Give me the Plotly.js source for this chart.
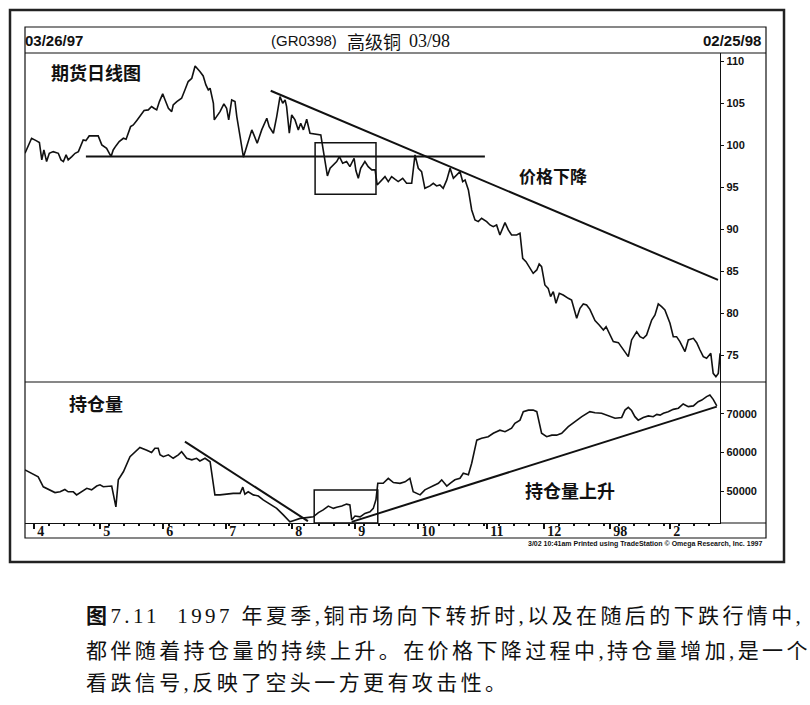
<!DOCTYPE html>
<html><head><meta charset="utf-8">
<script src="https://cdn.plot.ly/plotly-3.0.1.min.js"></script>
<style>
html,body{margin:0;padding:0;background:#fff;}
#chart{width:810px;height:705px;}
.annotation[data-index="0"] .annotation-text,
.annotation[data-index="1"] .annotation-text,
.annotation[data-index="2"] .annotation-text{letter-spacing:3.4px;}
</style></head><body><div id="chart"></div><script>
// trading-day index (0 = 03/26/97) and price
const priceDay = [0,2.2,3.7,4.8,5.6,6.3,7.2,8.1,9.4,11.1,12.0,12.8,13.7,14.4,15.6,16.7,17.8,19.4,20.3,21.4,22.8,24.4,25.6,27.2,28.7,29.4,30.3,31.4,32.8,33.7,35.2,36.1,37.4,38.9,39.7,41.1,42.2,43.0,43.9,44.8,45.9,46.7,47.8,48.9,49.4,50.6,52.2,53.3,54.4,55.6,56.7,58.3,59.4,60.3,61.1,61.7,62.8,63.1,63.9,65.0,66.3,67.2,67.9,
68.9,70.0,70.6,71.7,72.8,73.9,75.6,76.3,77.4,78.9,80.6,81.4,82.8,83.9,85.0,85.9,86.7,87.2,88.1,88.9,90.0,91.1,91.9,92.8,93.9,95.0,96.1,97.2,98.6,99.4,100.8,101.7,102.8,103.9,104.8,105.9,107.2,108.3,109.7,110.3,111.1,111.9,113.3,114.4,115.6,116.7,117.4,118.9,120.0,121.1,122.2,123.3,124.4,125.9,127.2,128.9,130.0,131.1,132.2,133.3,135.0,136.1,137.2,138.3,
139.4,140.6,141.7,142.8,143.9,145.0,145.9,146.7,147.8,148.9,150.0,151.1,152.2,153.9,155.0,156.1,157.2,158.3,160.0,161.1,162.2,163.9,165.0,165.9,167.0,168.3,169.4,170.6,171.4,172.2,173.3,174.4,175.2,176.1,177.0,178.1,179.4,181.1,182.2,183.9,185.0,186.1,187.2,188.3,190.0,191.4,192.8,193.7,194.8,196.1,197.8,199.2,201.1,202.2,203.9,205.0,206.1,207.2,208.9,210.0,211.1,212.2,213.3,215.0,216.1,217.2,218.3,220.0,221.1,222.8,223.9,225.0,226.1,227.2,228.6,229.4,230.3,231.1,231.7];
const priceVal = [99.05,100.84,100.56,100.33,98.26,99.45,98.06,99.05,99.25,99.05,98.26,98.06,98.86,98.26,98.66,99.05,99.25,100.64,100.56,101.12,101.12,101.12,100.05,99.65,98.66,99.45,99.93,100.44,100.84,100.72,102.23,102.43,103.03,103.82,104.14,104.22,104.62,104.42,104.22,105.21,106.13,105.41,104.42,104.02,104.81,105.21,105.61,106.60,107.60,107.99,109.46,108.79,108.27,107.20,106.60,106.80,105.01,103.03,103.42,104.02,104.93,104.42,103.03,
105.41,105.21,103.43,101.04,98.58,99.85,101.84,101.24,100.25,101.84,103.23,102.23,101.44,103.43,105.81,105.01,105.41,104.62,101.44,103.62,103.03,101.84,102.63,101.84,103.11,101.44,101.36,101.36,101.24,99.45,96.35,97.27,97.66,98.06,98.66,97.86,98.06,97.46,98.46,96.99,96.08,97.27,98.06,97.46,97.07,97.07,95.28,95.88,96.27,95.68,96.27,95.96,95.68,96.07,95.48,95.48,98.86,97.27,96.87,94.88,95.16,95.48,95.16,95.28,
94.88,95.88,97.27,96.07,96.47,96.87,95.68,95.88,94.68,92.30,91.11,90.91,91.31,90.91,90.51,90.31,90.51,89.32,90.79,89.92,89.32,89.32,89.52,86.54,86.14,85.35,84.75,85.15,85.86,85.55,83.36,82.96,81.97,82.57,81.18,82.37,82.17,81.77,81.57,79.39,80.58,81.10,80.98,80.46,79.11,78.59,78.00,78.39,77.60,76.61,76.49,75.81,74.82,76.81,77.80,77.20,77.00,77.40,79.19,79.79,81.10,80.78,80.38,78.79,77.20,77.20,76.61,75.42,76.81,77.00,76.49,75.61,74.82,74.62,75.22,72.83,72.43,72.83,75.22];

// open interest
const oiDay = [0,2.8,4.4,6.1,8.3,10,11.7,13.3,14.4,16.1,17.2,18.9,20.6,22.2,23.9,25,26.1,28.9,29.4,30.3,31.1,32.8,35,38.3,40.6,42.2,43.3,44.4,45,46.1,47.8,49.4,51.1,52.2,53.9,55.6,57.2,58.3,60,61.7,63.3,65,67.2,69.4,71.7,72.6,73.3,74.4,76.1,77.8,79.4,81.7,83.9,86.1,88.3,89.4,91.7,93.9,96.1,97.8,99.4,101.1,102.8,103.9,105.6,107.2,108.3,108.9,110,111.7,113.3,115,116.1,117,117.6,119.4,121.1,122.8,125,
126.7,128.3,129.4,130.6,131.7,133.3,135.6,137.8,138.9,140.6,141.7,143.3,145,146.1,147.8,148.9,150.6,152.2,154.4,156.1,158.3,160,162.2,163.3,165,166.1,167.8,169.4,170.6,171.7,172.2,173.9,175.6,177.2,178.9,181.1,183.3,185.6,188.3,190,192.2,194.4,196.7,198.9,200,201.1,202.2,203.3,204.4,206.1,207.8,209.4,210.6,211.7,212.8,214.4,216.1,217.8,219.4,221.1,222.8,224.4,225.6,227.2,228.3,229.4,230.6];
const oiVal = [55500,54300,53700,51100,50300,49600,49800,50400,49800,49800,49000,49800,50700,50300,51300,51600,51100,51300,49400,45900,52900,55000,58900,61300,60600,60000,61100,61100,59400,58900,59400,58500,59400,60200,58500,58100,58500,57800,58500,57600,49000,49000,49200,49400,49400,51000,49200,49800,49000,48700,47700,46600,45500,43800,42000,42300,42900,43100,43300,44400,45100,46100,45500,45800,46100,46600,46400,42500,43500,43300,44200,44600,45500,47800,52000,52000,53300,52200,52000,
52400,53300,49800,49400,49000,50300,51100,52000,52900,51300,52000,52900,53300,54600,54200,57200,63200,63700,64100,65000,65800,65400,66300,67600,68400,70600,71000,71000,70600,66700,65000,64100,64500,64500,65000,66700,68000,69300,70600,70300,70200,69500,68900,69100,71000,71700,70900,69300,68400,69100,69500,69300,69900,69700,70200,70600,71200,71500,72600,71900,72100,73200,73600,74500,74900,73800,72100];

// trend lines and boxes (day index, value)
const supportDay = [20.3,153.3], supportVal = [98.66,98.66];
const priceTrendDay = [81.9,231.0], priceTrendVal = [106.5,83.96];
const oiDownDay = [53.3,94.3], oiDownVal = [62800,42200];
const oiUpDay = [108.9,230.6], oiUpVal = [42000,71900];
const priceBoxDay = [96.7,117.0], priceBoxVal = [94.17,100.32];
const oiBoxDay = [96.4,117.6], oiBoxVal = [41700,50260];

const monthDay = [3,25,46,67,89,110,131,154,173,195,215];
const monthLabels = ['4','5','6','7','8','9','10','11','12','98','2'];
const priceTicks = [75,80,85,90,95,100,105,110];
const oiTicks = [50000,60000,70000];

const INK = '#111';
const X0=25, W=695, B=523, H=470;
const px = x => (x-X0)/W, py = y => (B-y)/H;

function ln(x,y,ax){return {x:x,y:y,xaxis:'x',yaxis:ax,mode:'lines',line:{color:INK,width:2},hoverinfo:'skip',showlegend:false};}
const traces = [
 {x:priceDay,y:priceVal,xaxis:'x',yaxis:'y',mode:'lines',line:{color:INK,width:1.6},hoverinfo:'skip',showlegend:false},
 {x:oiDay,y:oiVal,xaxis:'x',yaxis:'y2',mode:'lines',line:{color:INK,width:1.6},hoverinfo:'skip',showlegend:false},
 ln(supportDay,supportVal,'y'), ln(priceTrendDay,priceTrendVal,'y'),
 ln(oiDownDay,oiDownVal,'y2'), ln(oiUpDay,oiUpVal,'y2')
];

const capFont = {family:"Liberation Serif, 'Noto Sans CJK SC', serif", size:21, color:'#111'};
const cjkB = (s)=>({family:"'Noto Sans CJK SC'", size:s, color:INK, weight:'bold'});
function ann(text,x,y,font,xa){return {text:text,xref:'paper',yref:'paper',x:x,y:y,xanchor:xa||'left',yanchor:'middle',align:xa||'left',showarrow:false,font:font};}

const annotations = [
 ann('<b>图</b>7.11\u00a0\u00a01997 年夏季,铜市场向下转折时,以及在随后的下跌行情中,', px(84), py(616), capFont),
 ann('都伴随着持仓量的持续上升。在价格下降过程中,持仓量增加,是一个', px(84), py(651), capFont),
 ann('看跌信号,反映了空头一方更有攻击性。', px(84), py(683), capFont),
 ann('03/26/97', px(23), py(41), {family:'Liberation Sans',size:15,color:INK,weight:'bold'}),
 ann('(GR0398)', px(269), py(41), {family:'Liberation Sans',size:15,color:INK}),
 ann('高级铜', px(345), py(41), {family:"'Noto Sans CJK SC'",size:18,color:INK}),
 ann('03/98', px(407), py(41), {family:'Liberation Serif',size:18,color:INK}),
 ann('02/25/98', px(763), py(41), {family:'Liberation Sans',size:15,color:INK,weight:'bold'}, 'right'),
 ann('期货日线图', px(49), py(72), cjkB(18)),
 ann('价格下降', px(517), py(175), cjkB(17)),
 ann('持仓量', px(67), py(403), cjkB(18)),
 ann('持仓量上升', px(523), py(490), cjkB(18)),
 ann('3/02 10:41am Printed using TradeStation © Omega Research, Inc. 1997', px(764), py(544), {family:'Liberation Sans',size:7,color:INK,weight:'bold'}, 'right')
];

function pline(x0,y0,x1,y1,w){return {type:'line',xref:'paper',yref:'paper',x0:x0,y0:y0,x1:x1,y1:y1,line:{color:INK,width:w||1.2}};}
const shapes = [
 {type:'rect',xref:'paper',yref:'paper',x0:px(10),x1:px(784),y0:py(562),y1:py(10),line:{color:'#222',width:2.5}},
 {type:'rect',xref:'paper',yref:'paper',x0:px(25),x1:px(766),y0:py(538),y1:py(27),line:{color:INK,width:1.2}},
 pline(px(25),py(53),px(766),py(53)),
 pline(px(25),py(382),px(766),py(382)),
 pline(px(720),py(523),px(766),py(523)),
 {type:'rect',xref:'x',yref:'y',x0:priceBoxDay[0],x1:priceBoxDay[1],y0:priceBoxVal[0],y1:priceBoxVal[1],line:{color:INK,width:1.5}},
 {type:'rect',xref:'x',yref:'y2',x0:oiBoxDay[0],x1:oiBoxDay[1],y0:oiBoxVal[0],y1:oiBoxVal[1],line:{color:INK,width:1.5}}
];

const yTickFont = {family:'Liberation Sans',size:11,color:INK,weight:'bold'};
const layout = {
 width:810,height:705,margin:{l:25,r:90,t:53,b:182},
 paper_bgcolor:'#fff',plot_bgcolor:'#fff',showlegend:false,
 font:{family:'Liberation Sans',color:INK},
 xaxis:{domain:[0,1],range:[0,231.67],anchor:'y2',showline:true,linecolor:INK,linewidth:1.2,
   ticks:'outside',ticklen:5,tickwidth:1.2,tickcolor:INK,tickmode:'array',tickvals:monthDay,ticktext:monthLabels,
   ticklabelposition:'outside right',ticklabelstandoff:-5,ticklabelshift:2,
   tickfont:{family:'Liberation Serif',size:14,color:INK,weight:'bold'},
   minor:{ticks:'outside',ticklen:2,tickcolor:INK,tick0:3,dtick:5},
   showgrid:false,zeroline:false,fixedrange:true},
 yaxis:{domain:[0.3,1],range:[71.8,111.0],side:'right',anchor:'x',showline:true,linecolor:INK,linewidth:1.2,
   ticks:'outside',ticklen:3,tickcolor:INK,tickmode:'array',tickvals:priceTicks,tickfont:yTickFont,
   showgrid:false,zeroline:false,fixedrange:true},
 yaxis2:{domain:[0,0.3],range:[41700,78300],side:'right',anchor:'x',showline:true,linecolor:INK,linewidth:1.2,
   ticks:'outside',ticklen:3,tickcolor:INK,tickmode:'array',tickvals:oiTicks,tickformat:'d',tickfont:yTickFont,
   showgrid:false,zeroline:false,fixedrange:true},
 annotations:annotations, shapes:shapes
};
Plotly.newPlot('chart',traces,layout,{staticPlot:true,displayModeBar:false});
</script></body></html>
